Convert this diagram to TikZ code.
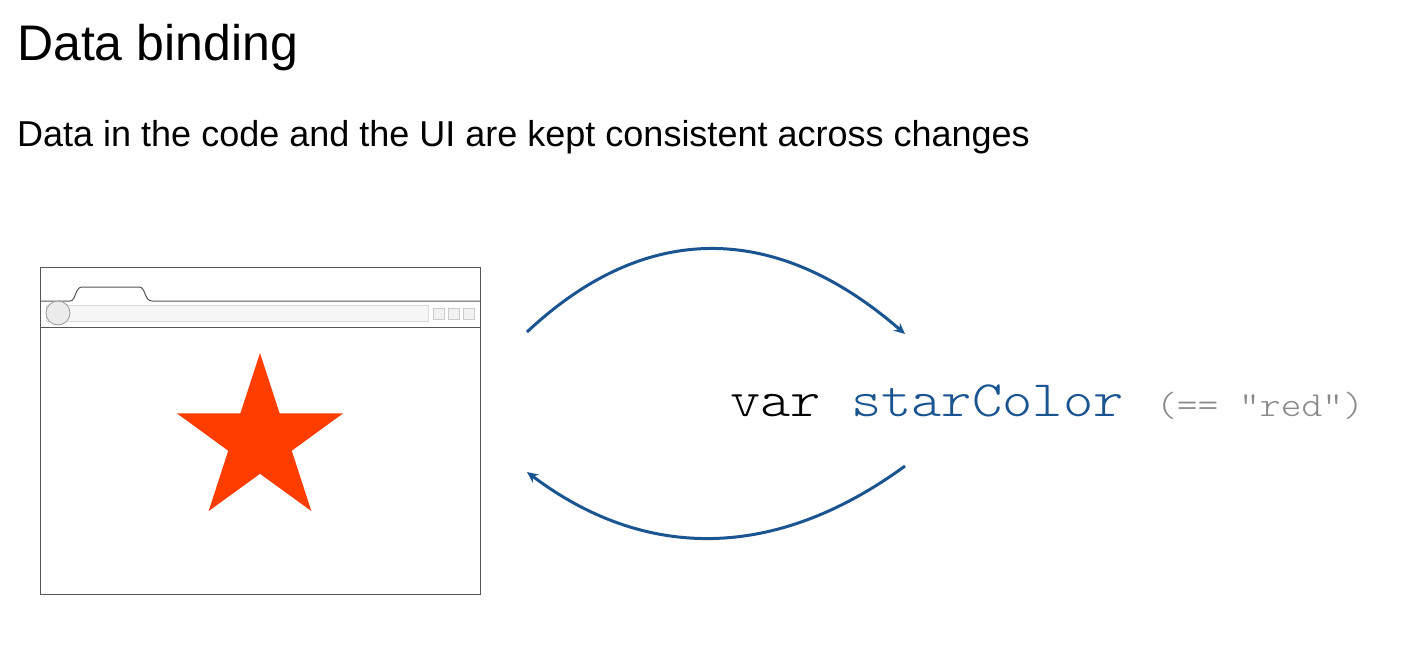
\documentclass[tikz,border=0pt]{standalone}
\usepackage{fontspec}
\setmainfont{Liberation Sans}
\setmonofont[FakeStretch=1.13]{Latin Modern Mono Light}
\usepackage{tikz}
\usetikzlibrary{arrows.meta}

\definecolor{bindblue}{HTML}{1A5592}
\definecolor{starred}{HTML}{FF3D00}
\definecolor{framegray}{HTML}{555555}
\definecolor{codegray}{HTML}{8A8A8A}

\tikzset{
  frame/.style={draw=framegray,line width=1pt},
  flow/.style={draw=bindblue,line width=3pt,-{Stealth[length=11pt,width=10pt]}},
  txt/.style={inner sep=0pt,anchor=base west}
}

\begin{document}
\begin{tikzpicture}[x=1pt,y=-1pt]
\useasboundingbox (0,0) rectangle (1401,649);

% Headings
\node[txt,font=\fontsize{50}{56}\selectfont] (title) at (17,60) {Data binding};
\node[txt,font=\fontsize{36}{40}\selectfont] (sub) at (17,146) {Data in the code and the UI are kept consistent across changes};

% Browser window
\node[frame,minimum width=440pt,minimum height=327pt,inner sep=0pt,anchor=north west] (win) at (40,267) {};
\draw[frame] (40,301) -- (70,301) .. controls (76,301) and (75,287) .. (82,287)
  -- (139,287) .. controls (146,287) and (144,301) .. (152,301) -- (480,301);
\draw[draw=black!15,fill=black!3,line width=0.8pt] (46,305) rectangle (428,321);
\draw[draw=black!40,fill=black!8,line width=0.8pt] (58,313) circle (12);
\foreach \x in {433,448,463}
  \draw[draw=black!20,fill=black!5,line width=0.8pt] (\x,308) rectangle ++(11,11);
\draw[frame] (40,327) -- (480,327);

% Star
\fill[starred] (260,353) \foreach \a in {1,...,9} {
  -- ({260+(mod(\a,2)==0 ? 87.3 : 33.4)*cos(90+36*\a)},{440.4-(mod(\a,2)==0 ? 87.3 : 33.4)*sin(90+36*\a)})
} -- cycle;

% Code
\node[txt,font=\ttfamily\fontsize{51}{56}\selectfont] (code) at (730,416)
  {var \textcolor{bindblue}{starColor}};
\node[txt,font=\ttfamily\fontsize{35}{40}\selectfont,text=codegray] (val) at (1156,416)
  {(== "red")};

% Binding arrows
\coordinate (ui-out) at (527,332);
\coordinate (code-in) at (905,334);
\coordinate (code-out) at (905,466);
\coordinate (ui-in) at (527,472);
\draw[flow] (ui-out) .. controls (645,221) and (775,221) .. (code-in);
\draw[flow] (code-out) .. controls (775,561) and (645,561) .. (ui-in);
\end{tikzpicture}
\end{document}
